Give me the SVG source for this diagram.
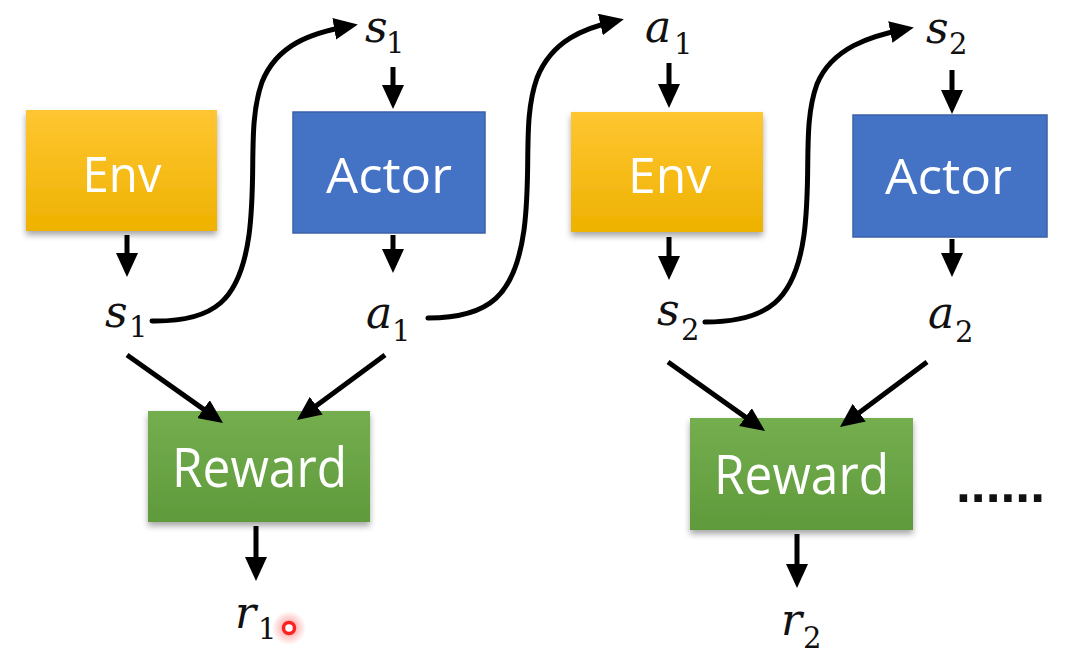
<svg xmlns="http://www.w3.org/2000/svg" width="1077" height="666" viewBox="0 0 1077 666">
<defs>
  <linearGradient id="gEnv" x1="0" y1="0" x2="0" y2="1">
    <stop offset="0" stop-color="#FFC632"/>
    <stop offset="1" stop-color="#EEB200"/>
  </linearGradient>
  <linearGradient id="gRew" x1="0" y1="0" x2="0" y2="1">
    <stop offset="0" stop-color="#74AE4F"/>
    <stop offset="1" stop-color="#5F9A3B"/>
  </linearGradient>
  <radialGradient id="gGlow">
    <stop offset="0" stop-color="#ff3030" stop-opacity="0.55"/>
    <stop offset="1" stop-color="#ff3030" stop-opacity="0"/>
  </radialGradient>
  <filter id="shadow" x="-10%" y="-10%" width="120%" height="130%">
    <feDropShadow dx="0" dy="4" stdDeviation="3" flood-color="#000" flood-opacity="0.35"/>
  </filter>
  <marker id="ah" viewBox="0 0 24 22" refX="16" refY="11" markerWidth="24" markerHeight="22" markerUnits="userSpaceOnUse" orient="auto">
    <path d="M0,0 L24,11 L0,22 z" fill="#000"/>
  </marker>
</defs>
<style>
  .lbl { font-family: "Open Sans", "Liberation Sans", sans-serif; fill: #fff; text-anchor: middle; }
  .math { font-family: "DejaVu Serif", "Liberation Serif", serif; font-style: italic; font-size: 44px; fill: #111; }
  .sub { font-style: normal; font-size: 29px; }
  .conn line, .conn path { stroke: #000; stroke-width: 5; fill: none; marker-end: url(#ah); }
  .conn path { stroke-linecap: round; }
</style>
<rect width="1077" height="666" fill="#fff"/>

<g id="env1">
  <rect x="26" y="110" width="191" height="121" fill="url(#gEnv)" filter="url(#shadow)"/>
  <text class="lbl" x="122" y="192" font-size="50" textLength="79" lengthAdjust="spacingAndGlyphs">Env</text>
</g>
<g id="actor1">
  <rect x="293" y="112" width="192" height="121" fill="#4472C4" stroke="#3A62A8" stroke-width="1.5"/>
  <text class="lbl" x="389" y="193" font-size="49" textLength="126" lengthAdjust="spacingAndGlyphs">Actor</text>
</g>
<g id="env2">
  <rect x="571" y="112" width="192" height="120" fill="url(#gEnv)" filter="url(#shadow)"/>
  <text class="lbl" x="669.5" y="193" font-size="50" textLength="83" lengthAdjust="spacingAndGlyphs">Env</text>
</g>
<g id="actor2">
  <rect x="853" y="115" width="194" height="122" fill="#4472C4" stroke="#3A62A8" stroke-width="1.5"/>
  <text class="lbl" x="948.5" y="194" font-size="49" textLength="127" lengthAdjust="spacingAndGlyphs">Actor</text>
</g>
<g id="reward1">
  <rect x="148" y="411" width="222" height="111" fill="url(#gRew)" filter="url(#shadow)"/>
  <text class="lbl" x="259.5" y="487" font-size="55" textLength="175" lengthAdjust="spacingAndGlyphs">Reward</text>
</g>
<g id="reward2">
  <rect x="690" y="418" width="223" height="112" fill="url(#gRew)" filter="url(#shadow)"/>
  <text class="lbl" x="801.5" y="494" font-size="55" textLength="175" lengthAdjust="spacingAndGlyphs">Reward</text>
</g>

<g id="labels">
  <text class="math" x="365" y="42">s<tspan class="sub" x="386" y="53">1</tspan></text>
  <text class="math" x="645" y="42">a<tspan class="sub" x="674" y="54">1</tspan></text>
  <text class="math" x="926" y="43">s<tspan class="sub" x="949" y="54">2</tspan></text>
  <text class="math" x="105" y="327">s<tspan class="sub" x="129" y="337">1</tspan></text>
  <text class="math" x="366" y="328">a<tspan class="sub" x="392" y="341">1</tspan></text>
  <text class="math" x="657" y="325">s<tspan class="sub" x="681" y="340">2</tspan></text>
  <text class="math" x="928" y="328">a<tspan class="sub" x="955" y="342">2</tspan></text>
  <text class="math" x="235" y="628">r<tspan class="sub" x="258" y="639">1</tspan></text>
  <text class="math" x="781" y="635">r<tspan class="sub" x="803" y="648">2</tspan></text>
  <text x="956" y="502" font-family="Liberation Sans, Arial, sans-serif" font-weight="bold" font-size="52" fill="#111" textLength="89" lengthAdjust="spacingAndGlyphs">......</text>
</g>

<g id="connectors" class="conn">
  <line x1="127" y1="235" x2="127" y2="269"/>
  <line x1="393" y1="235" x2="393" y2="265"/>
  <line x1="393" y1="67" x2="393" y2="101"/>
  <line x1="669" y1="63" x2="669" y2="100"/>
  <line x1="669" y1="237" x2="669" y2="272"/>
  <line x1="952" y1="70" x2="952" y2="106"/>
  <line x1="952" y1="239" x2="952" y2="269"/>
  <line x1="256" y1="526" x2="256" y2="573"/>
  <line x1="797" y1="534" x2="797" y2="580"/>
  <line x1="127" y1="355" x2="216.5" y2="418.4"/>
  <line x1="385" y1="355" x2="303.4" y2="415.2"/>
  <line x1="668" y1="362" x2="758.5" y2="426.4"/>
  <line x1="927" y1="362" x2="846.4" y2="422.2"/>
  <path d="M152,321 C215,322 240,300 249,235 C257,175 247,125 262,82 C277,45 310,33 350,26"/>
  <path d="M428,318 C490,318 515,295 524,230 C532,170 522,120 537,78 C552,40 585,28 616,21"/>
  <path d="M705,322 C768,322 795,300 804,235 C812,175 802,125 817,84 C832,48 870,36 906,29"/>
</g>

<g id="pointer">
  <circle cx="289" cy="628" r="17" fill="url(#gGlow)"/>
  <circle cx="289" cy="628" r="5.5" fill="#fff" stroke="#ff2020" stroke-width="3.5"/>
</g>
</svg>
